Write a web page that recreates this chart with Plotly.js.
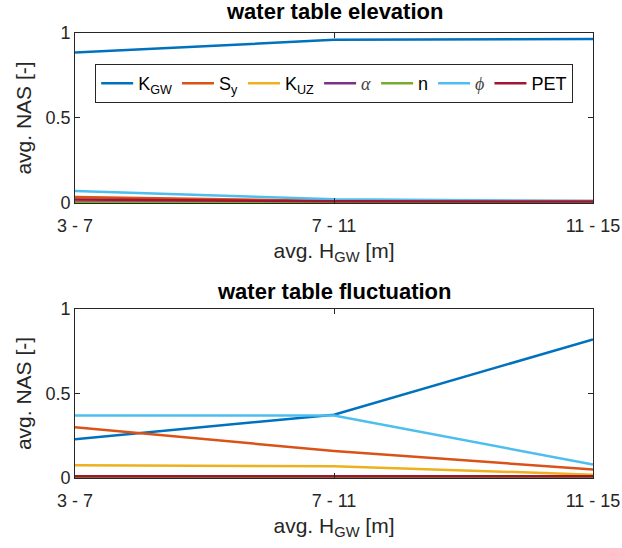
<!DOCTYPE html>
<html><head><meta charset="utf-8">
<script src="https://cdn.plot.ly/plotly-3.0.1.min.js"></script>
<style>body{margin:0;background:#fff}#c{width:622px;height:548px}</style>
</head><body><div id="c"></div>
<script>
const categories = ['3 - 7', '7 - 11', '11 - 15'];
const names = ['K<sub>GW</sub>', 'S<sub>y</sub>', 'K<sub>UZ</sub>',
  '<span style="font-family:Liberation Serif, DejaVu Serif, serif;font-style:italic;fill:#444">α</span>', 'n',
  '<span style="font-family:Liberation Serif, DejaVu Serif, serif;font-style:italic;fill:#444">ϕ</span>', 'PET'];
const colors = ['#0072BD', '#D95319', '#EDB120', '#7E2F8E', '#77AC30', '#4DBEEE', '#A2142F'];
// water table elevation
const elevKGW = [0.885, 0.96, 0.965];
const elevSy  = [0.035, 0.012, 0.012];
const elevKUZ = [0.01, 0.005, 0.005];
const elevAlpha = [0.003, 0.003, 0.003];
const elevN   = [0.0, 0.0, 0.0];
const elevPhi = [0.07, 0.022, 0.012];
const elevPET = [0.02, 0.01, 0.008];
// water table fluctuation
const flucKGW = [0.23, 0.375, 0.82];
const flucSy  = [0.30, 0.16, 0.05];
const flucKUZ = [0.075, 0.07, 0.02];
const flucAlpha = [0.005, 0.005, 0.005];
const flucN   = [0.0, 0.0, 0.004];
const flucPhi = [0.37, 0.37, 0.08];
const flucPET = [0.01, 0.01, 0.01];

const elev = [elevKGW, elevSy, elevKUZ, elevAlpha, elevN, elevPhi, elevPET];
const fluc = [flucKGW, flucSy, flucKUZ, flucAlpha, flucN, flucPhi, flucPET];
const traces = [];
[0,1,2,3,4,5,6].forEach(i => {
  traces.push({x: categories, y: elev[i], type: 'scatter', mode: 'lines', name: names[i],
    line: {color: colors[i], width: 2.5}, xaxis: 'x', yaxis: 'y', showlegend: true});
});
[0,1,2,3,4,5,6].forEach(i => {
  traces.push({x: categories, y: fluc[i], type: 'scatter', mode: 'lines', name: names[i],
    line: {color: colors[i], width: 2.5}, xaxis: 'x2', yaxis: 'y2', showlegend: false});
});

const fam = 'Arial, Liberation Sans, sans-serif';
const axFont = {family: fam, size: 18, color: '#262626'};
const titleFont = {family: fam, size: 21, color: '#262626'};
function xax(anchor) {
  return {domain: [0.1206, 0.9534], anchor: anchor, type: 'category', range: [0, 2],
    showline: true, mirror: 'ticks', linecolor: '#262626', linewidth: 1,
    ticks: 'inside', ticklen: 5, tickcolor: '#262626', showgrid: false, zeroline: false,
    ticklabelstandoff: 6,
    tickfont: axFont, title: {text: 'avg. H<sub>GW</sub> [m]', font: titleFont, standoff: 8}};
}
function yax(anchor, dom) {
  return {domain: dom, anchor: anchor, range: [0, 1], tickvals: [0, 0.5, 1], ticktext: ['0', '0.5', '1'],
    showline: true, mirror: 'ticks', linecolor: '#262626', linewidth: 1,
    ticks: 'inside', ticklen: 5, tickcolor: '#262626', showgrid: false, zeroline: false,
    tickfont: axFont, title: {text: 'avg. NAS [-]', font: titleFont, standoff: 8}};
}
const layout = {
  width: 622, height: 548, margin: {l: 0, r: 0, t: 0, b: 0},
  paper_bgcolor: '#fff', plot_bgcolor: '#fff',
  xaxis: xax('y'), yaxis: yax('x', [0.6296, 0.9398]),
  xaxis2: xax('y2'), yaxis2: yax('x2', [0.1277, 0.4361]),
  showlegend: true,
  legend: {orientation: 'h', x: 0.153, y: 0.883, xanchor: 'left', yanchor: 'top',
    bordercolor: '#262626', borderwidth: 1, bgcolor: '#fff', itemwidth: 32,
    font: {family: fam, size: 18, color: '#000'}, tracegroupgap: 0},
  annotations: [
    {text: '<b>water table elevation</b>', xref: 'paper', yref: 'paper', x: 0.537, y: 1 - 12/548,
     yanchor: 'middle', showarrow: false, font: {family: fam, size: 22, color: '#000'}},
    {text: '<b>water table fluctuation</b>', xref: 'paper', yref: 'paper', x: 0.537, y: 1 - 291/548,
     yanchor: 'middle', showarrow: false, font: {family: fam, size: 22, color: '#000'}}
  ]
};
Plotly.newPlot('c', traces, layout, {displayModeBar: false, staticPlot: true});
</script></body></html>
